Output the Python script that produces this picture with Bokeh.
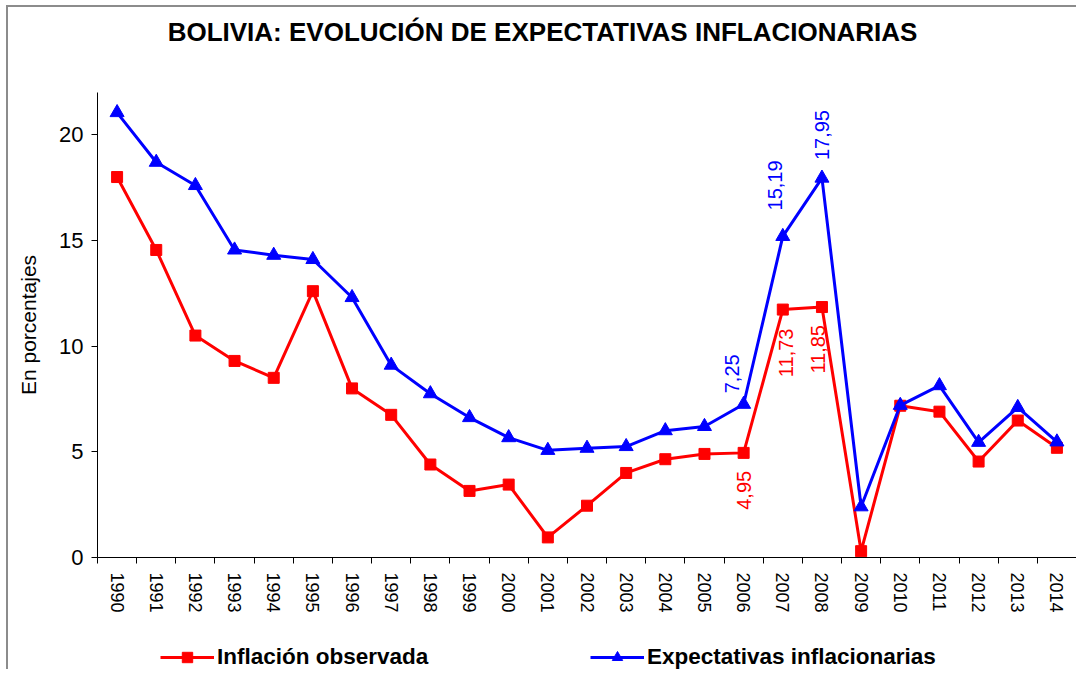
from bokeh.plotting import figure
from bokeh.models import (ColumnDataSource, Range1d, FixedTicker, Label, Legend, LegendItem)
from bokeh.core.properties import value
from bokeh.embed import file_html
from bokeh.resources import INLINE
import math

# ---------------- data ----------------
years = [str(y) for y in range(1990, 2015)]
inflacion = [18.0, 14.55, 10.5, 9.3, 8.5, 12.6, 8.0, 6.75, 4.4, 3.15,
             3.45, 0.95, 2.45, 4.0, 4.65, 4.9, 4.95, 11.73, 11.85, 0.3,
             7.18, 6.9, 4.54, 6.48, 5.19]
expectativas = [21.05, 18.7, 17.6, 14.55, 14.3, 14.1, 12.3, 9.1, 7.75, 6.62,
                5.67, 5.07, 5.17, 5.25, 6.0, 6.2, 7.25, 15.19, 17.95, 2.4,
                7.2, 8.13, 5.45, 7.1, 5.47]
y_ticks = [0, 5, 10, 15, 20]
y_max = 22

# annotated points
lab_blue_years = ["2006", "2007", "2008"]
lab_red_years = ["2006", "2007", "2008"]

title_text = "BOLIVIA: EVOLUCIÓN DE EXPECTATIVAS INFLACIONARIAS"
y_label = "En porcentajes"
serie_roja = "Inflación observada"
serie_azul = "Expectativas inflacionarias"

RED = "#FF0000"
BLUE = "#0000FF"
FONT = "Liberation Sans"

# ---------------- layout (pixels) ----------------
W, H = 1070, 664              # canvas size
FL, FR = 89, 1068             # axis area left / right inside canvas
FT, FB = 85, 550              # y = y_max / y = 0 inside canvas
n = len(years)
pxx = (FR - FL) / n
pxy = (FB - FT) / y_max

xpos = [i + 0.5 for i in range(n)]

p = figure(width=W, height=H, output_backend="svg", toolbar_location=None,
           x_range=Range1d(-FL / pxx, (W - FL) / pxx),
           y_range=Range1d(-(H - FB) / pxy, y_max + FT / pxy),
           min_border_left=0, min_border_right=0, min_border_top=0, min_border_bottom=0)
p.styles = {"margin-left": "6px", "margin-top": "5px",
            "border-left": "2px solid #8c8c8c", "border-top": "2px solid #8c8c8c"}
p.outline_line_color = None
p.xgrid.visible = False
p.ygrid.visible = False
p.background_fill_color = "white"

src_r = ColumnDataSource(dict(x=xpos, y=inflacion))
src_b = ColumnDataSource(dict(x=xpos, y=expectativas))

lr = p.line("x", "y", source=src_r, line_color=RED, line_width=3)
sr = p.scatter("x", "y", source=src_r, marker="square", size=11, fill_color=RED, line_color=RED)
lb = p.line("x", "y", source=src_b, line_color=BLUE, line_width=3)
sb = p.scatter("x", "y", source=src_b, marker="triangle", size=14, fill_color=BLUE, line_color=BLUE)

# x axis
xa = p.xaxis[0]
xa.fixed_location = 0
xa.bounds = (0, n)
xa.ticker = FixedTicker(ticks=xpos, minor_ticks=list(range(n + 1)))
xa.major_label_overrides = {xv: yr for xv, yr in zip(xpos, years)}
xa.major_label_orientation = "vertical"
xa.major_tick_line_color = None
xa.major_tick_out = 6
xa.major_tick_in = 0
xa.minor_tick_out = 6
xa.minor_tick_in = 0
xa.minor_tick_line_color = "black"
xa.major_label_standoff = 9
xa.major_label_text_font = FONT
xa.major_label_text_font_size = "18px"
xa.major_label_text_color = "black"
xa.axis_line_color = "black"

# y axis
ya = p.yaxis[0]
ya.fixed_location = 0
ya.bounds = (0, y_max)
ya.ticker = FixedTicker(ticks=y_ticks, minor_ticks=[])
ya.major_tick_out = 6
ya.major_tick_in = 0
ya.major_label_standoff = 8
ya.major_label_text_font = FONT
ya.major_label_text_font_size = "22px"
ya.major_label_text_color = "black"
ya.axis_line_color = "black"
ya.major_tick_line_color = "black"
ya.axis_label = y_label
ya.axis_label_text_font = FONT
ya.axis_label_text_font_size = "21px"
ya.axis_label_text_font_style = "normal"
ya.axis_label_text_color = "black"
ya.axis_label_standoff = 16

# data labels
idx = {y: i for i, y in enumerate(years)}
bx = [xpos[idx[y]] for y in lab_blue_years]
by = [expectativas[idx[y]] for y in lab_blue_years]
rx = [xpos[idx[y]] for y in lab_red_years]
ry = [inflacion[idx[y]] for y in lab_red_years]
fmt = lambda v: f"{v:.2f}".replace(".", ",")
src_lb = ColumnDataSource(dict(x=bx, y=by, t=[fmt(v) for v in by],
                               xo=[-12, -8, 0], yo=[-11, -26, -18]))
src_lr = ColumnDataSource(dict(x=rx, y=ry, t=[fmt(v) for v in ry],
                               xo=[0, 3, -4], yo=[18, 19, 18]))
p.text("x", "y", text="t", source=src_lb, angle=math.pi / 2, x_offset="xo", y_offset="yo",
       text_align="left", text_baseline="middle", text_color=BLUE,
       text_font=value(FONT), text_font_size="20px")
p.text("x", "y", text="t", source=src_lr, angle=math.pi / 2, x_offset="xo", y_offset="yo",
       text_align="right", text_baseline="middle", text_color=RED,
       text_font=value(FONT), text_font_size="20px")

# title
p.add_layout(Label(x=534, y=H - 24, x_units="screen", y_units="screen", text=title_text,
                   text_align="center", text_baseline="middle", text_font=FONT,
                   text_font_size="26px", text_font_style="bold", text_color="black"))

# legends
def mk_legend(label, rends, x):
    return Legend(items=[LegendItem(label=label, renderers=rends)], location=(x, 1),
                  orientation="horizontal", glyph_width=54, glyph_height=26,
                  label_standoff=3, padding=0, margin=0, border_line_color=None,
                  background_fill_alpha=0, label_text_font=FONT,
                  label_text_font_size="22.5px", label_text_font_style="bold",
                  label_text_color="black")

p.add_layout(mk_legend(serie_roja, [lr, sr], 152), "center")
p.add_layout(mk_legend(serie_azul, [lb, sb], 582), "center")

open("out.html", "w").write(file_html(p, INLINE))
